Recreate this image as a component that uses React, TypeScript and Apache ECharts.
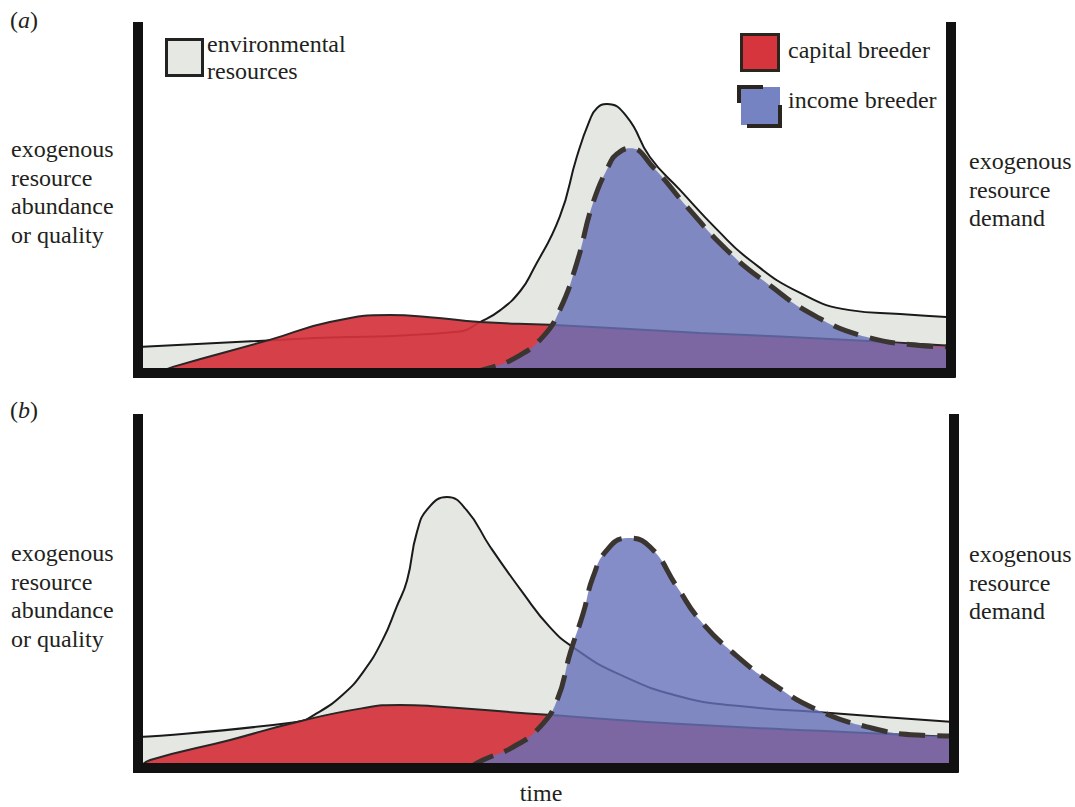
import React, { useEffect, useRef } from 'react';
import * as echarts from 'echarts';

// time (0-100) vs. level (0-~99) for the two scenarios
const envA: [number, number][] = [
  [0, 7.3], [19.9, 9.6], [39.3, 11.6], [42.1, 14.4], [44.6, 17.8], [47.1, 23.4], [48.6, 29.2],
  [51.9, 44.4], [54.0, 61.5], [55.6, 72.0], [56.5, 75.5], [57.7, 76.6], [60.2, 72.9], [63.0, 61.5],
  [66.7, 52.1], [71.3, 40.7], [75.3, 32.1], [81.5, 22.7], [87.6, 17.8], [93.8, 16.7], [100, 15.8],
];
const capitalA: [number, number][] = [
  [2.7, 0], [4.3, 1.6], [16.2, 9.3], [23.6, 14.4], [31.0, 16.4], [35.9, 15.8], [42.1, 14.4],
  [50.7, 13.6], [69.2, 11.3], [87.6, 9.3], [100, 7.6],
];
const incomeA: [number, number][] = [
  [40.9, 0], [43.3, 1.3], [46.6, 4.4], [49.8, 10.1], [51.9, 17.8], [54.0, 31.2], [56.0, 48.4],
  [58.1, 59.8], [58.9, 62.3], [60.6, 64.0], [63.4, 58.6], [67.6, 47.2], [72.5, 34.9], [77.4, 25.5],
  [83.6, 15.8], [89.7, 10.1], [95.9, 7.8], [100, 7.3],
];

const envB: [number, number][] = [
  [0, 8.6], [19.5, 12.9], [21.9, 15.3], [25.1, 20.6], [27.6, 27.0], [30.0, 36.1], [31.7, 45.4],
  [33.0, 53.0], [34.2, 66.6], [35.6, 73.4], [37.9, 76.5], [40.3, 72.8], [43.2, 62.4], [47.2, 49.4],
  [50.5, 39.7], [53.3, 34.1], [58.7, 26.7], [66.8, 19.9], [75.0, 17.1], [83.3, 15.7],
  [91.4, 14.3], [100, 12.9],
];
const capitalB: [number, number][] = [
  [0.2, 0], [1.5, 2.1], [11.3, 7.8], [19.5, 12.9], [27.6, 16.8], [32.1, 17.7], [35.8, 17.4],
  [50.2, 14.9], [68.9, 12.0], [87.3, 10.0], [100, 8.6],
];
const incomeB: [number, number][] = [
  [40.7, 0], [42.3, 2.1], [46.0, 5.8], [49.3, 11.5], [51.4, 19.1], [53.0, 32.4], [54.6, 43.7],
  [55.8, 53.9], [57.5, 61.5], [60.0, 64.9], [62.8, 62.4], [66.1, 51.1], [68.9, 41.7],
  [73.0, 32.4], [78.4, 22.8], [83.3, 16.3], [89.4, 11.5], [95.5, 9.2], [100, 8.9],
];

const leftLabel = ['exogenous', 'resource', 'abundance', 'or quality'];
const rightLabel = ['exogenous', 'resource', 'demand'];
const legendNames = ['environmental\nresources', 'capital breeder', 'income breeder'];

const FONT = "'Liberation Serif', 'Times New Roman', serif";
const TXT = '#231f20';
const FS = 24;

export default function App() {
  const ref = useRef<HTMLDivElement>(null);
  useEffect(() => {
    if (!ref.current) return;
    const chart = echarts.init(ref.current, undefined, { renderer: 'svg' });

    const frame = { show: true, onZero: false, lineStyle: { color: '#111', width: 10, cap: 'square' } };
    const mkX = (gi: number) => ({
      type: 'value', gridIndex: gi, min: 0, max: 100, z: 10,
      axisLine: frame, axisTick: { show: false }, axisLabel: { show: false }, splitLine: { show: false },
    });
    const mkY = (gi: number, pos: string) => ({
      type: 'value', gridIndex: gi, min: 0, max: 98.6, position: pos, z: 10,
      axisLine: frame, axisTick: { show: false }, axisLabel: { show: false }, splitLine: { show: false },
    });
    const mkSeries = (gi: number, env: any, cap: any, inc: any) => [
      {
        type: 'line', xAxisIndex: gi, yAxisIndex: gi * 2, data: env, smooth: 0.5,
        symbol: 'none', lineStyle: { color: '#1a1a1a', width: 2 },
        areaStyle: { color: '#e4e7e2', opacity: 1 }, z: 2,
      },
      {
        type: 'line', xAxisIndex: gi, yAxisIndex: gi * 2, data: cap, smooth: 0.5,
        symbol: 'none', lineStyle: { color: '#2a2626', width: 2 },
        areaStyle: { color: '#d5323b', opacity: 0.92 }, z: 3,
      },
      {
        type: 'line', xAxisIndex: gi, yAxisIndex: gi * 2, data: inc, smooth: 0.5,
        symbol: 'none', lineStyle: { color: '#3a3530', width: 5, type: [26, 12] },
        areaStyle: { color: 'rgb(101,112,185)', opacity: 0.8 }, z: 4,
      },
    ];

    const txt = (x: number, y: number, text: string, extra: any = {}) => ({
      type: 'text', x, y, z: 20,
      style: { text, font: `${FS}px ${FONT}`, fill: TXT, lineHeight: 28.5, verticalAlign: 'top', ...extra },
    });

    const graphic: any[] = [
      {
        type: 'text', x: 10, y: 8, z: 20,
        style: {
          text: '({i|a})', font: `${FS}px ${FONT}`, fill: TXT,
          rich: { i: { fontStyle: 'italic', fontSize: FS, fontFamily: FONT, fill: TXT } },
        },
      },
      {
        type: 'text', x: 10, y: 398, z: 20,
        style: {
          text: '({i|b})', font: `${FS}px ${FONT}`, fill: TXT,
          rich: { i: { fontStyle: 'italic', fontSize: FS, fontFamily: FONT, fill: TXT } },
        },
      },
      txt(11, 135, leftLabel.join('\n')),
      txt(969, 147, rightLabel.join('\n')),
      txt(11, 539, leftLabel.join('\n')),
      txt(969, 540, rightLabel.join('\n')),
      txt(541, 782, 'time', { align: 'center', lineHeight: 22 }),
      // legend
      { type: 'rect', shape: { x: 166.5, y: 39.5, width: 36, height: 36 }, style: { fill: '#e6e8e4', stroke: '#222', lineWidth: 3 }, z: 20 },
      txt(207, 30, legendNames[0], { lineHeight: 27 }),
      { type: 'rect', shape: { x: 741.5, y: 34.5, width: 37, height: 36 }, style: { fill: '#d7353e', stroke: '#2b2520', lineWidth: 3 }, z: 20 },
      txt(788, 36, legendNames[1]),
      { type: 'rect', shape: { x: 741, y: 87, width: 39, height: 38 }, style: { fill: '#7683c3' }, z: 20 },
      { type: 'polyline', shape: { points: [[739, 103], [739, 87], [763, 87]] }, style: { stroke: '#2b2520', lineWidth: 4, fill: null }, z: 21 },
      { type: 'polyline', shape: { points: [[780, 105], [780, 126], [747, 126]] }, style: { stroke: '#2b2520', lineWidth: 4, fill: null }, z: 21 },
      txt(788, 86, legendNames[2]),
    ];

    chart.setOption({
      animation: false,
      backgroundColor: '#fff',
      grid: [
        { left: 138, right: 124.5, top: 27, height: 345.5 },
        { left: 138, right: 121.5, top: 419, height: 348.5 },
      ],
      xAxis: [mkX(0), mkX(1)],
      yAxis: [mkY(0, 'left'), mkY(0, 'right'), mkY(1, 'left'), mkY(1, 'right')],
      series: [...mkSeries(0, envA, capitalA, incomeA), ...mkSeries(1, envB, capitalB, incomeB)],
      graphic,
    });
    return () => chart.dispose();
  }, []);
  return <div ref={ref} style={{ position: 'absolute', left: 0, top: 0, width: 1075, height: 807 }} />;
}
